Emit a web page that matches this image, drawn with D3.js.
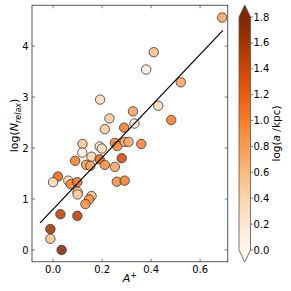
<!DOCTYPE html>
<html>
<head>
<meta charset="utf-8">
<script src="https://cdn.jsdelivr.net/npm/d3@7"></script>
<style>
  body { margin: 0; background: #fff; }
  text { font-family: "DejaVu Sans", sans-serif; }
</style>
</head>
<body>
<div id="container"></div>
<script>
// A+ values, log(N_relax) values and log(a/kpc) colour values
const aPlus = [
  0.69, 0.411, 0.38, 0.521, 0.429, 0.482, 0.192, 0.23, 0.211, 0.326,
  0.332, 0.29, 0.12, 0.19, 0.199, 0.252, 0.262, 0.292, 0.308, 0.36,
  0.119, 0.09, 0.157, 0.135, 0.152, 0.19, 0.211, 0.252, 0.28, 0.26,
  0.292, 0.02, 0.0, 0.062, 0.072, 0.099, 0.1, 0.1, 0.157, 0.147,
  0.132, 0.03, 0.099, -0.011, -0.011, 0.035
];
const logN = [
  4.56, 3.88, 3.54, 3.29, 2.83, 2.55, 2.95, 2.58, 2.37, 2.72,
  2.48, 2.40, 2.08, 2.03, 1.99, 2.10, 2.04, 2.12, 2.12, 2.08,
  1.91, 1.75, 1.83, 1.67, 1.65, 1.78, 1.67, 1.63, 1.80, 1.34,
  1.36, 1.44, 1.33, 1.36, 1.29, 1.33, 1.14, 1.09, 1.06, 0.99,
  0.90, 0.70, 0.67, 0.41, 0.22, 0.0
];
const logA = [
  0.75, 0.55, 0.1, 0.75, 0.35, 1.0, 0.35, 0.5, 0.5, 0.75,
  0.15, 1.0, 0.55, 0.3, 0.3, 0.95, 0.9, 0.75, 0.7, 0.95,
  0.12, 1.0, 0.4, 0.8, 0.75, 1.15, 0.9, 0.75, 1.35, 0.9,
  1.0, 1.15, 0.35, 0.35, 0.95, 1.05, 0.45, 0.45, 0.6, 0.85,
  0.85, 1.45, 1.45, 1.6, 0.55, 1.75
];

// linear fit drawn over the data
const fitSlope = 5.06;
const fitIntercept = 0.80;
const fitRange = [-0.053, 0.693];

const xTicks = [0.0, 0.2, 0.4, 0.6];
const yTicks = [0, 1, 2, 3, 4];
const cTicks = [0.0, 0.2, 0.4, 0.6, 0.8, 1.0, 1.2, 1.4, 1.6, 1.8];

const W = 291, H = 291;
const plot = { left: 32, right: 227.7, top: 5.3, bottom: 261.7 };
const bar = { left: 239, right: 250.5, top: 17, bottom: 250, ext: 12 };
const spineColor = "#555";

const x = d3.scaleLinear().domain([-0.086, 0.7125]).range([plot.left, plot.right]);
const y = d3.scaleLinear().domain([-0.23, 4.80]).range([plot.bottom, plot.top]);
const cmap = d3.scaleSequential(d3.interpolateOranges).domain([0, 1.8]).clamp(true);
const cy = d3.scaleLinear().domain([0, 1.8]).range([bar.bottom, bar.top]);

const svg = d3.select("#container").append("svg")
  .attr("width", W).attr("height", H);

// points
const points = aPlus.map((d, i) => ({ a: d, n: logN[i], c: logA[i] }));
svg.append("g")
  .selectAll("circle")
  .data(points)
  .enter()
  .append("circle")
  .attr("cx", d => x(d.a))
  .attr("cy", d => y(d.n))
  .attr("r", 4.7)
  .style("fill", d => cmap(d.c))
  .style("fill-opacity", 0.88)
  .style("stroke", "#333")
  .style("stroke-width", 0.8);

// fit line
svg.append("path")
  .datum(fitRange.map(v => [v, fitIntercept + fitSlope * v]))
  .attr("d", d3.line().x(d => x(d[0])).y(d => y(d[1])))
  .style("fill", "none")
  .style("stroke", "#000")
  .style("stroke-width", 1.2);

// frame with inward ticks on all sides
const axes = svg.append("g");
axes.append("rect")
  .attr("x", plot.left).attr("y", plot.top)
  .attr("width", plot.right - plot.left).attr("height", plot.bottom - plot.top)
  .style("fill", "none").style("stroke", spineColor).style("stroke-width", 1);

const tl = 3;
xTicks.forEach(t => {
  [[plot.bottom, -tl], [plot.top, tl]].forEach(([py, dy]) => {
    axes.append("line")
      .attr("x1", x(t)).attr("x2", x(t)).attr("y1", py).attr("y2", py + dy)
      .style("stroke", spineColor).style("stroke-width", 0.8);
  });
  axes.append("text")
    .attr("x", x(t)).attr("y", plot.bottom + 11)
    .attr("text-anchor", "middle").style("font-size", "10px")
    .text(d3.format(".1f")(t));
});
yTicks.forEach(t => {
  [[plot.left, tl], [plot.right, -tl]].forEach(([px, dx]) => {
    axes.append("line")
      .attr("x1", px).attr("x2", px + dx).attr("y1", y(t)).attr("y2", y(t))
      .style("stroke", spineColor).style("stroke-width", 0.8);
  });
  axes.append("text")
    .attr("x", plot.left - 3.5).attr("y", y(t)).attr("dy", "0.36em")
    .attr("text-anchor", "end").style("font-size", "10px")
    .text(t);
});

// axis labels
const xl = svg.append("text")
  .attr("x", (plot.left + plot.right) / 2).attr("y", 282)
  .attr("text-anchor", "middle").style("font-size", "11px");
xl.append("tspan").style("font-style", "italic").text("A");
xl.append("tspan").attr("dy", -4.5).style("font-size", "8px").text("+");

const yl = svg.append("text")
  .attr("transform", `translate(18,${(plot.top + plot.bottom) / 2 - 8}) rotate(-90)`)
  .attr("text-anchor", "middle").style("font-size", "11px");
yl.append("tspan").text("log(");
yl.append("tspan").style("font-style", "italic").text("N");
yl.append("tspan").attr("dy", 2.5).style("font-size", "8px").style("font-style", "italic").text("relax");
yl.append("tspan").attr("dy", -2.5).text(")");

// colour bar
const grad = svg.append("defs").append("linearGradient")
  .attr("id", "cbar").attr("x1", 0).attr("y1", 1).attr("x2", 0).attr("y2", 0);
d3.range(0, 1.0001, 0.05).forEach(f => {
  grad.append("stop").attr("offset", f).attr("stop-color", d3.interpolateOranges(f));
});
const cb = svg.append("g");
cb.append("rect")
  .attr("x", bar.left).attr("y", bar.top)
  .attr("width", bar.right - bar.left).attr("height", bar.bottom - bar.top)
  .style("fill", "url(#cbar)");
const mid = (bar.left + bar.right) / 2;
cb.append("path")
  .attr("d", `M${bar.left},${bar.top}L${mid},${bar.top - bar.ext}L${bar.right},${bar.top}Z`)
  .style("fill", cmap(1.8));
cb.append("path")
  .attr("d", `M${bar.left},${bar.bottom}L${mid},${bar.bottom + bar.ext}L${bar.right},${bar.bottom}Z`)
  .style("fill", cmap(0));
cb.append("path")
  .attr("d", `M${bar.left},${bar.top}L${mid},${bar.top - bar.ext}L${bar.right},${bar.top}` +
    `L${bar.right},${bar.bottom}L${mid},${bar.bottom + bar.ext}L${bar.left},${bar.bottom}Z`)
  .style("fill", "none").style("stroke", spineColor).style("stroke-width", 0.8);
cTicks.forEach(t => {
  cb.append("line")
    .attr("x1", bar.right).attr("x2", bar.right + 2.5)
    .attr("y1", cy(t)).attr("y2", cy(t))
    .style("stroke", spineColor).style("stroke-width", 0.8);
  cb.append("text")
    .attr("x", bar.right + 3).attr("y", cy(t)).attr("dy", "0.36em")
    .style("font-size", "10px")
    .text(d3.format(".1f")(t));
});
const cl = svg.append("text")
  .attr("transform", `translate(280,${(bar.top + bar.bottom) / 2}) rotate(-90)`)
  .attr("text-anchor", "middle").style("font-size", "10.5px");
cl.append("tspan").text("log(");
cl.append("tspan").style("font-style", "italic").text("a");
cl.append("tspan").text(" /kpc)");
</script>
</body>
</html>
